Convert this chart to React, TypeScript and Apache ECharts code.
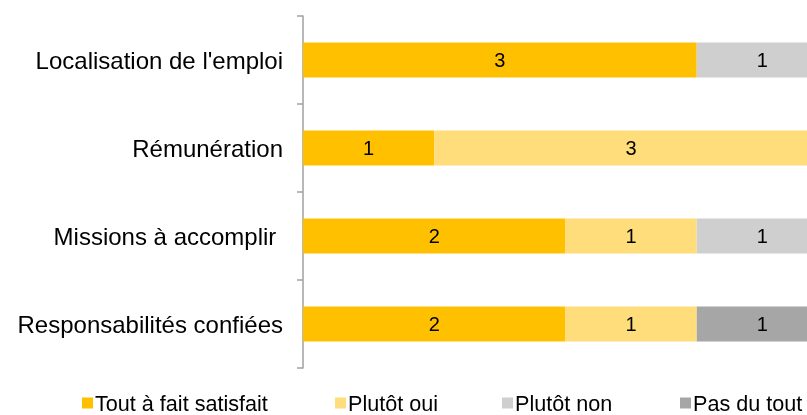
import React, { useEffect, useRef } from "react";
import * as echarts from "echarts";

const categories = [
  "Localisation de l'emploi",
  "Rémunération",
  "Missions à accomplir ",
  "Responsabilités confiées",
];
const seriesNames = ["Tout à fait satisfait", "Plutôt oui", "Plutôt non", "Pas du tout"];
const toutAFait = [3, 1, 2, 2];
const plutotOui = [0, 3, 1, 1];
const plutotNon = [1, 0, 1, 0];
const pasDuTout = [0, 0, 0, 1];
const colors = ["#FFC000", "#FFDD7B", "#CFCFCF", "#A6A6A6"];
const legendLefts = [82, 335, 502, 680];

const FONT = "Liberation Sans, Arial, sans-serif";

export default function App() {
  const ref = useRef<HTMLDivElement>(null);
  useEffect(() => {
    if (!ref.current) return;
    const chart = echarts.init(ref.current, undefined, { renderer: "svg" });
    const values = [toutAFait, plutotOui, plutotNon, pasDuTout];
    chart.setOption({
      animation: false,
      textStyle: { fontFamily: FONT },
      grid: { left: 303, top: 16, bottom: 47, right: 0, containLabel: false },
      xAxis: {
        type: "value",
        min: 0,
        max: 4,
        show: false,
        splitLine: { show: false },
      },
      yAxis: {
        type: "category",
        data: categories,
        inverse: true,
        axisLine: { show: true, lineStyle: { color: "#A0A0A0", width: 1.5 } },
        axisTick: { show: true, length: 6, lineStyle: { color: "#A0A0A0", width: 1.5 } },
        axisLabel: { color: "#000", fontSize: 24, margin: 20, fontFamily: FONT },
      },
      legend: seriesNames.map((n, i) => ({
        data: [n],
        left: legendLefts[i],
        top: 392,
        itemWidth: 11,
        itemHeight: 11,
        icon: "rect",
        padding: 0,
        itemGap: 0,
        textStyle: { fontSize: 21.6, color: "#000", fontFamily: FONT, padding: [0, 0, 0, -3] },
      })),
      series: seriesNames.map((n, i) => ({
        name: n,
        type: "bar",
        stack: "total",
        barWidth: "40%",
        itemStyle: { color: colors[i] },
        label: {
          show: true,
          position: "inside",
          color: "#000",
          fontSize: 20,
          fontFamily: FONT,
          formatter: (p: any) => (p.value > 0 ? String(p.value) : ""),
        },
        data: values[i],
      })),
    });
    return () => chart.dispose();
  }, []);
  return (
    <div style={{ position: "fixed", left: 0, top: 0, width: 807, height: 415, overflow: "hidden" }}>
      <div ref={ref} style={{ width: 828, height: 415 }} />
    </div>
  );
}
